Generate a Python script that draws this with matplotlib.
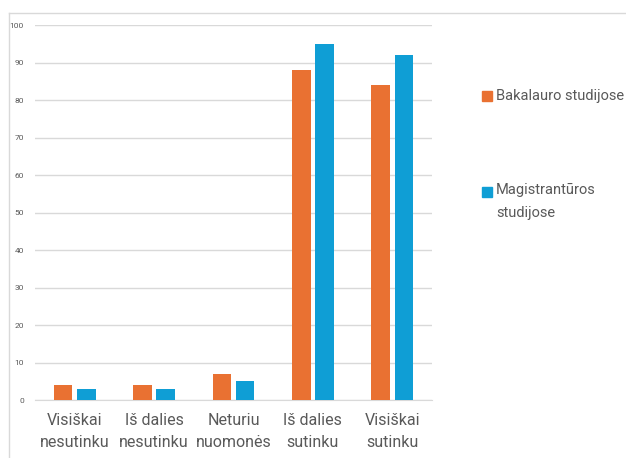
import numpy as np
import matplotlib.pyplot as plt
from matplotlib.patches import Rectangle
from matplotlib.lines import Line2D

categories = ['Visiškai\nnesutinku', 'Iš dalies\nnesutinku', 'Neturiu\nnuomonės',
              'Iš dalies\nsutinku', 'Visiškai\nsutinku']
bakalauro = [4, 4, 7, 88, 84]
magistrantura = [3, 3, 5, 95, 92]
series_labels = ['Bakalauro studijose', 'Magistrantūros\nstudijose']
colors = ['#E97132', '#0F9ED5']

plt.rcParams['font.family'] = ['Roboto', 'DejaVu Sans']

fig = plt.figure(figsize=(6.26, 4.58), dpi=100)
ax = fig.add_axes([0.056, 0.1266, 0.634, 0.8188])

x = np.arange(len(categories))
w = 0.235
ax.bar(x - 0.147, bakalauro, w, color=colors[0], zorder=3)
ax.bar(x + 0.147, magistrantura, w, color=colors[1], zorder=3)

ax.set_xlim(-0.5, len(categories) - 0.5)
ax.set_ylim(0, 100)
ax.set_yticks(range(0, 101, 10))
ax.grid(axis='y', color='#d9d9d9', lw=1, zorder=0)
for s in ['top', 'right', 'left']:
    ax.spines[s].set_visible(False)
ax.spines['bottom'].set_color('#d9d9d9')
ax.tick_params(axis='y', length=0, labelsize=6, labelcolor='#595959', pad=8)
ax.tick_params(axis='x', length=0, labelsize=11.5, labelcolor='#595959', pad=9)
ax.set_xticks(x)
ax.set_xticklabels(categories, linespacing=1.6)

# outer chart border (only top and left visible in the crop)
fig.add_artist(Line2D([9/626, 9/626], [0, 1 - 13/458], transform=fig.transFigure,
                      color='#d9d9d9', lw=1))
fig.add_artist(Line2D([9/626, 1], [1 - 13/458, 1 - 13/458], transform=fig.transFigure,
                      color='#d9d9d9', lw=1))

# legend
for i, (lab, c) in enumerate(zip(series_labels, colors)):
    ytop = [91, 187][i]
    fig.add_artist(Rectangle((482/626, 1 - (ytop + 10)/458), 10/626, 10/458,
                             transform=fig.transFigure, color=c))
    t = fig.text(496/626, 1 - (ytop + 5)/458, lab, fontsize=10.5, color='#595959',
                 va='center', ha='left', linespacing=1.85)
    if '\n' in lab:
        t.set_va('top')
        t.set_y(1 - (ytop - 4)/458)

fig.savefig('out.png', dpi=100)
